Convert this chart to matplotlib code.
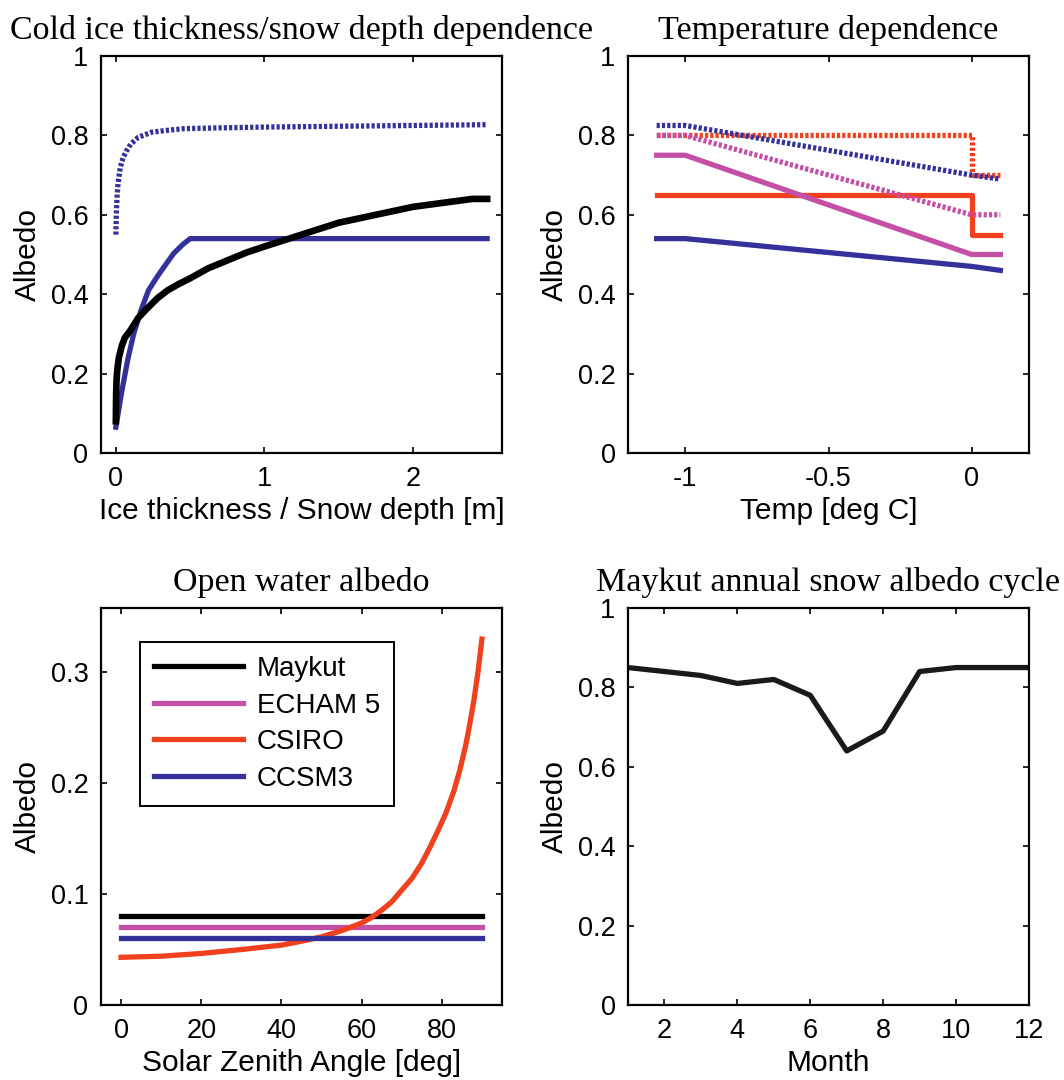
import numpy as np
import matplotlib
matplotlib.use("Agg")
import matplotlib.pyplot as plt

# colours of the four schemes
black = "#000000"
magenta = "#C44FA6"
red = "#F0401E"
blue = "#34329A"

# cold ice thickness / snow depth dependence
h_ice_dot = [0, 0.003, 0.008, 0.015, 0.03, 0.05, 0.07, 0.1, 0.15, 0.24, 0.35, 0.46, 0.7, 1.0, 1.5, 2.0, 2.5]
a_ice_dot = [0.55, 0.60, 0.645, 0.68, 0.72, 0.745, 0.76, 0.778, 0.795, 0.808, 0.813, 0.817, 0.819, 0.821, 0.823, 0.825, 0.827]
h_maykut = [0, 0.002, 0.005, 0.01, 0.02, 0.04, 0.06, 0.08, 0.1, 0.15, 0.2, 0.28, 0.35, 0.42, 0.5, 0.62,
            0.75, 0.88, 1.0, 1.25, 1.5, 1.75, 2.0, 2.2, 2.4, 2.5]
a_maykut = [0.08, 0.15, 0.185, 0.21, 0.24, 0.27, 0.29, 0.30, 0.31, 0.34, 0.36, 0.39, 0.41, 0.425, 0.44, 0.465,
            0.485, 0.505, 0.52, 0.55, 0.58, 0.60, 0.62, 0.63, 0.64, 0.64]
h_ccsm = [0, 0.02, 0.04, 0.08, 0.12, 0.17, 0.22, 0.28, 0.34, 0.39, 0.45, 0.5, 2.5]
a_ccsm = [0.065, 0.11, 0.155, 0.235, 0.30, 0.36, 0.41, 0.445, 0.477, 0.503, 0.525, 0.54, 0.54]

# temperature dependence
t_step = [-1.1, 0.0, 0.0, 0.1]
a_csiro_snow = [0.80, 0.80, 0.70, 0.70]
a_csiro_ice = [0.65, 0.65, 0.55, 0.55]
t_ramp = [-1.1, -1.0, 0.0, 0.1]
a_echam_snow = [0.80, 0.80, 0.60, 0.60]
a_echam_ice = [0.75, 0.75, 0.50, 0.50]
a_ccsm_snow = [0.825, 0.825, 0.70, 0.69]
a_ccsm_ice = [0.54, 0.54, 0.47, 0.46]

# open water albedo
sza = [0, 90]
a_ow_maykut = [0.08, 0.08]
a_ow_echam = [0.07, 0.07]
a_ow_ccsm = [0.06, 0.06]
sza_csiro = [0, 10, 20, 30, 35, 40, 45, 50, 55, 60, 62.5, 65, 67.5, 70, 72.5, 75, 77, 79, 81, 83,
             84.5, 86, 87, 88, 89, 90]
a_ow_csiro = [0.043, 0.044, 0.0465, 0.05, 0.052, 0.054, 0.0575, 0.0615, 0.067, 0.074, 0.079, 0.0855,
              0.093, 0.1036, 0.114, 0.128, 0.142, 0.157, 0.173, 0.193, 0.212, 0.235, 0.254, 0.275, 0.30, 0.33]

# Maykut annual snow albedo cycle
month = [1, 2, 3, 4, 5, 6, 7, 8, 9, 10, 11, 12]
a_month = [0.85, 0.84, 0.83, 0.81, 0.82, 0.78, 0.64, 0.69, 0.84, 0.85, 0.85, 0.85]

plt.rcParams['font.family'] = ['Liberation Sans', 'DejaVu Sans']
plt.rcParams['font.size'] = 19.5
lw = 3.8
dots = (0, (0.6, 0.4))

fig = plt.figure(figsize=(10.64, 10.8), dpi=100)
W, H = 1064.0, 1080.0
def box(l, t, r, b):
    return [l / W, 1 - b / H, (r - l) / W, (b - t) / H]

ax1 = fig.add_axes(box(101, 56, 502, 453))
ax2 = fig.add_axes(box(628, 56, 1029, 453))
ax3 = fig.add_axes(box(101, 608, 502, 1005))
ax4 = fig.add_axes(box(628, 608, 1029, 1005))

def style(ax, title):
    ax.set_title(title, family=['Liberation Serif', 'DejaVu Serif'], fontsize=24.5, pad=12)
    ax.tick_params(direction='in', top=True, right=True, length=4, width=1.2, labelsize=19.5, pad=9)
    for s in ax.spines.values():
        s.set_linewidth(1.6)
    ax.set_ylabel('Albedo', fontsize=21.5, labelpad=6)
    ax.xaxis.label.set_size(21.5)

ax1.plot(h_ice_dot, a_ice_dot, color=blue, lw=lw, linestyle=dots, dash_capstyle='butt')
ax1.plot(h_ccsm, a_ccsm, color=blue, lw=lw)
ax1.plot(h_maykut, a_maykut, color=black, lw=lw + 1.0)
ax1.set_xlim(-0.1, 2.6)
ax1.set_ylim(0, 1)
ax1.set_xticks([0, 1, 2])
ax1.set_yticks([0, 0.2, 0.4, 0.6, 0.8, 1])
ax1.set_yticklabels(['0', '0.2', '0.4', '0.6', '0.8', '1'])
ax1.set_xlabel('Ice thickness / Snow depth [m]', labelpad=4)
style(ax1, 'Cold ice thickness/snow depth dependence')

ax2.plot(t_step, a_csiro_ice, color=red, lw=lw)
ax2.plot(t_ramp, a_echam_ice, color=magenta, lw=lw)
ax2.plot(t_ramp, a_ccsm_ice, color=blue, lw=lw)
ax2.plot(t_step, a_csiro_snow, color=red, lw=lw, linestyle=dots, dash_capstyle='butt')
ax2.plot(t_ramp, a_echam_snow, color=magenta, lw=lw, linestyle=dots, dash_capstyle='butt')
ax2.plot(t_ramp, a_ccsm_snow, color=blue, lw=lw, linestyle=dots, dash_capstyle='butt')
ax2.set_xlim(-1.2, 0.2)
ax2.set_ylim(0, 1)
ax2.set_xticks([-1, -0.5, 0])
ax2.set_xticklabels(['-1', '-0.5', '0'])
ax2.set_yticks([0, 0.2, 0.4, 0.6, 0.8, 1])
ax2.set_yticklabels(['0', '0.2', '0.4', '0.6', '0.8', '1'])
ax2.set_xlabel('Temp [deg C]', labelpad=4)
style(ax2, 'Temperature dependence')

ax3.plot(sza, a_ow_maykut, color=black, lw=lw, label='Maykut')
ax3.plot(sza, a_ow_echam, color=magenta, lw=lw, label='ECHAM 5')
ax3.plot(sza_csiro, a_ow_csiro, color=red, lw=lw, label='CSIRO')
ax3.plot(sza, a_ow_ccsm, color=blue, lw=lw, label='CCSM3')
ax3.set_xlim(-5, 95)
ax3.set_ylim(0, 0.358)
ax3.set_xticks([0, 20, 40, 60, 80])
ax3.set_yticks([0, 0.1, 0.2, 0.3])
ax3.set_yticklabels(['0', '0.1', '0.2', '0.3'])
ax3.set_xlabel('Solar Zenith Angle [deg]', labelpad=4)
style(ax3, 'Open water albedo')
leg = ax3.legend(loc='upper left', bbox_to_anchor=(0.097, 0.914), borderaxespad=0, fancybox=False,
                 edgecolor='black', framealpha=1, handlelength=3.2, labelspacing=0.38,
                 borderpad=0.5, handletextpad=0.5, fontsize=20)
leg.get_frame().set_linewidth(1.4)

ax4.plot(month, a_month, color='#1a1a1a', lw=lw)
ax4.set_xlim(1, 12)
ax4.set_ylim(0, 1)
ax4.set_xticks([2, 4, 6, 8, 10, 12])
ax4.set_yticks([0, 0.2, 0.4, 0.6, 0.8, 1])
ax4.set_yticklabels(['0', '0.2', '0.4', '0.6', '0.8', '1'])
ax4.set_xlabel('Month', labelpad=4)
style(ax4, 'Maykut annual snow albedo cycle')

fig.savefig('out.png', dpi=100)
